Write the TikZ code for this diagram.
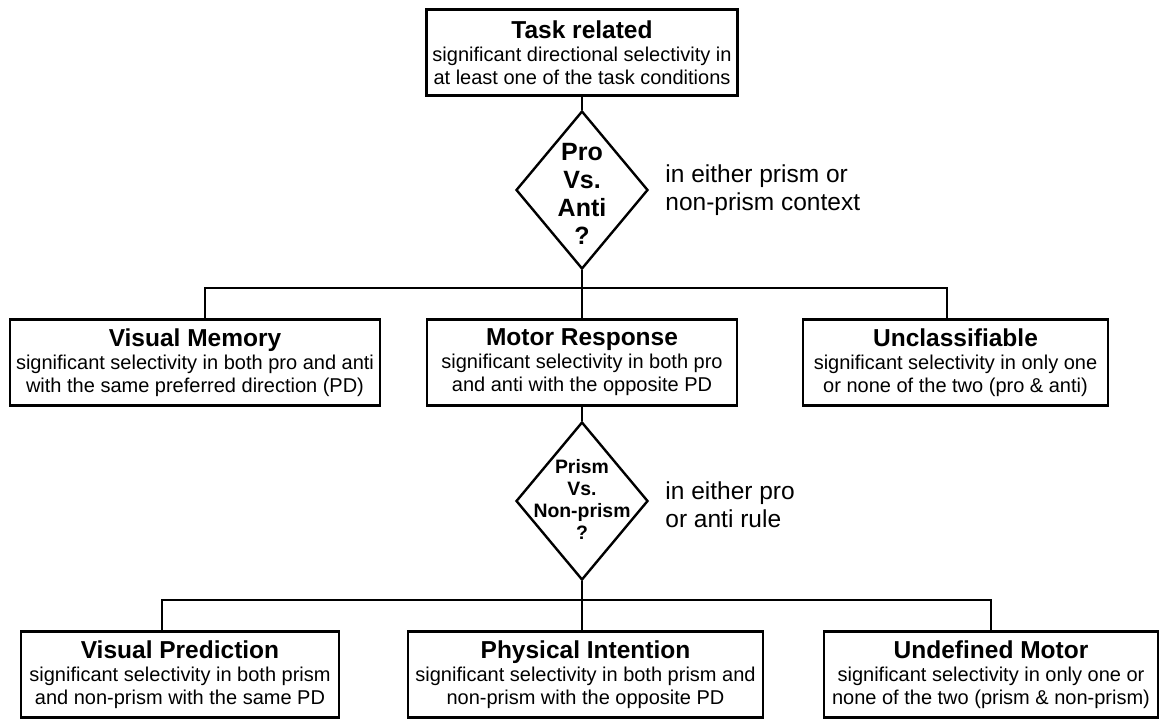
\documentclass[tikz,border=0pt]{standalone}
\usepackage{fontspec}
\setmainfont{Liberation Sans}
\usepackage{tikz}
\usetikzlibrary{shapes.geometric}

\newcommand{\hd}[1]{{\fontsize{12.25}{14}\selectfont\bfseries #1}}

\begin{document}
\begin{tikzpicture}[
    x=0.5pt, y=-0.5pt,
    font=\fontsize{10}{11.5}\selectfont,
    box/.style={draw=black, rectangle, align=center, minimum height=43pt,
                inner sep=0pt, line width=1.2pt},
    decision/.style={draw=black, diamond, minimum width=66pt, minimum height=79pt,
                     inner sep=0pt, line width=1.2pt},
    qtext/.style={align=center, inner sep=0pt, font=\bfseries},
    note/.style={anchor=west, align=left, inner sep=0pt,
                 font=\fontsize{12.25}{14}\selectfont},
    link/.style={draw=black, line width=1.2pt}
  ]
    \useasboundingbox (0,0) rectangle (1159,718);

    % top level
    \node[box, minimum width=155.5pt] (task) at (582,52.5)
      {\hd{Task related}\\significant directional selectivity in\\at least one of the task conditions};
    \node[decision] (q1) at (582,190) {};
    \node[qtext, font=\fontsize{12.5}{14}\selectfont\bfseries, yshift=-2pt] at (q1)
      {Pro\\Vs.\\Anti\\?};
    \node[note] (ctx1) at (665,190) {in either prism or\\non-prism context};

    % middle level
    \coordinate (bus1) at (582,288);
    \node[box, minimum width=185pt] (vmem) at (195,362.5)
      {\hd{Visual Memory}\\significant selectivity in both pro and anti\\with the same preferred direction (PD)};
    \node[box, minimum width=155pt] (motor) at (582,362.5)
      {\hd{Motor Response}\\significant selectivity in both pro\\and anti with the opposite PD};
    \node[box, minimum width=152.5pt] (unclass) at (955.5,362.5)
      {\hd{Unclassifiable}\\significant selectivity in only one\\or none of the two (pro \& anti)};
    \node[decision] (q2) at (582,501) {};
    \node[qtext, font=\fontsize{9.7}{11}\selectfont\bfseries, yshift=1pt] at (q2)
      {Prism\\Vs.\\Non-prism\\?};
    \node[note] (ctx2) at (665,505) {in either pro\\or anti rule};

    % bottom level
    \coordinate (bus2) at (582,600);
    \node[box, minimum width=159pt] (vpred) at (180,674.5)
      {\hd{Visual Prediction}\\significant selectivity in both prism\\and non-prism with the same PD};
    \node[box, minimum width=177.5pt] (phys) at (585.5,674.5)
      {\hd{Physical Intention}\\significant selectivity in both prism and\\non-prism with the opposite PD};
    \node[box, minimum width=167pt] (undef) at (991,674.5)
      {\hd{Undefined Motor}\\significant selectivity in only one or\\none of the two (prism \& non-prism)};

    \draw[link] (task) -- (q1);
    \draw[link] (q1) -- (motor);
    \draw[link] ([xshift=5pt]vmem.north) |- (bus1) -| ([xshift=-4.25pt]unclass.north);
    \draw[link] (motor) -- (q2);
    \draw[link] (q2) -- (phys.north -| q2);
    \draw[link] ([xshift=-9pt]vpred.north) |- (bus2) -| (undef.north);
  \end{tikzpicture}
\end{document}
